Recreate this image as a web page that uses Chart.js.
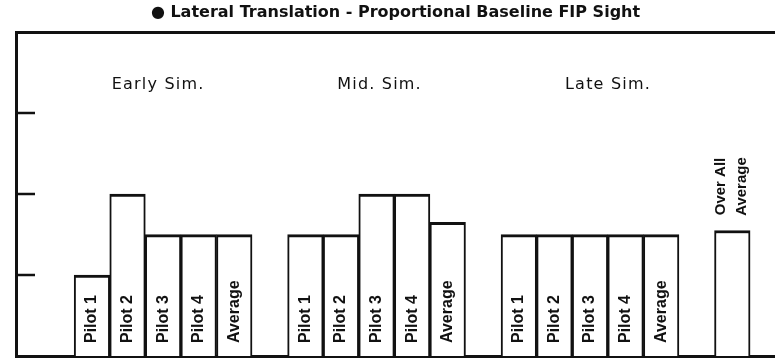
<!DOCTYPE html>
<html>
<head>
<meta charset="utf-8">
<script src="https://cdn.jsdelivr.net/npm/chart.js@4.4.1/dist/chart.umd.min.js"></script>
<style>
  html, body { margin: 0; padding: 0; background: #fff; }
</style>
</head>
<body>
<canvas id="chart" width="775" height="363"></canvas>
<script>
const groupNames = ['Early Sim.', 'Mid. Sim.', 'Late Sim.'];
const barLabels = ['Pilot 1', 'Pilot 2', 'Pilot 3', 'Pilot 4', 'Average'];
const earlySim = [1, 2, 1.5, 1.5, 1.5];
const midSim = [1.5, 1.5, 2, 2, 1.65];
const lateSim = [1.5, 1.5, 1.5, 1.5, 1.5];
const overallAverage = 1.55;
const overallLabel = ['Over All', 'Average'];
const yTicks = [1, 2, 3];
const yMax = 4;

// one slot per bar, an empty slot after each group
const slots = [];
[earlySim, midSim, lateSim].forEach((vals, g) => {
    vals.forEach((v, i) => slots.push({ y: v, label: barLabels[i], group: g }));
    slots.push(null);
});
slots.push({ y: overallAverage, label: null, group: -1 });

const points = [];
slots.forEach((s, i) => {
    if (s) points.push({ x: i, y: s.y });
});

const ink = '#111';

const annotate = {
    id: 'annotate',
    afterDraw(chart) {
        const ctx = chart.ctx;
        const xs = chart.scales.x;
        const ys = chart.scales.y;
        const area = chart.chartArea;
        const bars = chart.getDatasetMeta(0).data;

        ctx.save();
        // inward tick marks on the left axis
        ctx.strokeStyle = ink;
        ctx.lineWidth = 2.5;
        yTicks.forEach(t => {
            const py = Math.round(ys.getPixelForValue(t));
            ctx.beginPath();
            ctx.moveTo(area.left, py);
            ctx.lineTo(area.left + 19, py);
            ctx.stroke();
        });

        ctx.fillStyle = ink;
        ctx.textBaseline = 'middle';
        let k = 0;
        slots.forEach(s => {
            if (!s) return;
            const bar = bars[k++];
            ctx.save();
            if (s.label) {
                ctx.font = 'bold 16px "Liberation Sans", Arial, sans-serif';
                ctx.textAlign = 'left';
                ctx.translate(bar.x, bar.base - 13);
                ctx.rotate(-Math.PI / 2);
                ctx.fillText(s.label, 0, 0);
            } else {
                ctx.font = 'bold 15px "Liberation Sans", Arial, sans-serif';
                ctx.textAlign = 'center';
                ctx.translate(bar.x, bar.y - 44);
                ctx.rotate(-Math.PI / 2);
                ctx.fillText(overallLabel[0], 0, -11);
                ctx.fillText(overallLabel[1], 0, 10);
            }
            ctx.restore();
        });

        // group captions
        const shift = [-5, 3, 18];
        ctx.font = '16px "DejaVu Sans", sans-serif';
        ctx.letterSpacing = '1.2px';
        ctx.textAlign = 'center';
        groupNames.forEach((name, g) => {
            const idx = [];
            slots.forEach((s, i) => { if (s && s.group === g) idx.push(i); });
            const cx = (xs.getPixelForValue(idx[0]) + xs.getPixelForValue(idx[idx.length - 1])) / 2;
            ctx.fillText(name, cx + shift[g], ys.getPixelForValue(3.35));
        });
        ctx.restore();
    }
};

new Chart(document.getElementById('chart'), {
    type: 'bar',
    data: {
        datasets: [{
            data: points,
            backgroundColor: '#fff',
            borderColor: ink,
            borderWidth: { top: 3, left: 2, right: 2, bottom: 0 },
            borderSkipped: false,
            barPercentage: 1,
            categoryPercentage: 1
        }]
    },
    options: {
        responsive: false,
        animation: false,
        devicePixelRatio: 1,
        layout: { padding: { left: 16, right: 0, bottom: 7, top: 0 } },
        plugins: {
            legend: { display: false },
            tooltip: { enabled: false },
            title: {
                display: true,
                text: '\u25CF Lateral Translation - Proportional Baseline FIP Sight',
                color: ink,
                font: { family: '"DejaVu Sans", sans-serif', size: 16, weight: 'bold' },
                padding: { top: 3, bottom: 10 }
            }
        },
        scales: {
            x: {
                type: 'linear',
                min: -2.135,
                max: 19.2,
                offset: false,
                z: 1,
                ticks: { display: false, stepSize: 5, includeBounds: false },
                grid: { display: false, drawTicks: false, offset: false },
                border: { display: true, color: ink, width: 3 }
            },
            x2: {
                type: 'linear',
                position: 'top',
                ticks: { display: false },
                grid: { display: false, drawTicks: false },
                border: { display: true, color: ink, width: 3 }
            },
            y: {
                min: 0,
                max: yMax,
                z: 1,
                ticks: { display: false },
                grid: { display: false, drawTicks: false },
                border: { display: true, color: ink, width: 3 }
            }
        }
    },
    plugins: [annotate]
});
</script>
</body>
</html>
